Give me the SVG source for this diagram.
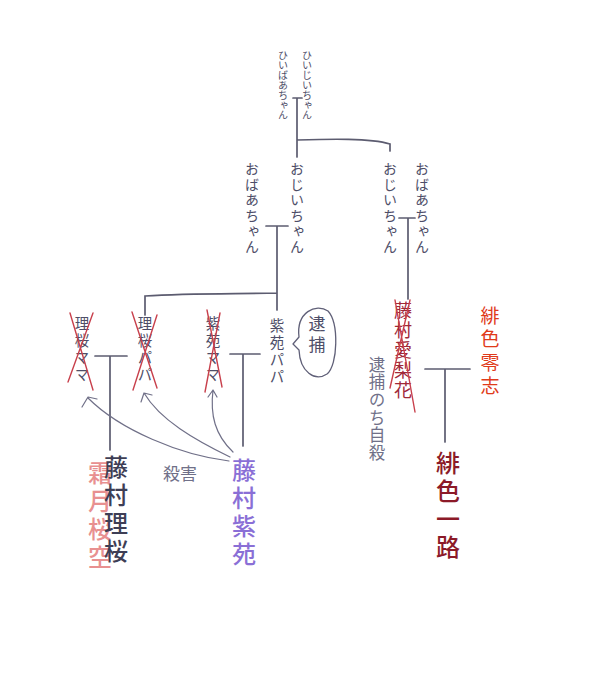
<svg xmlns="http://www.w3.org/2000/svg" width="602" height="680" viewBox="0 0 602 680">
<style>
.v{writing-mode:vertical-rl;font-family:"Noto Sans CJK JP","Noto Sans",sans-serif;}
.ln{fill:none;stroke:#5c5c70;stroke-width:1.7;stroke-linecap:round;}
.x{fill:none;stroke:#c8404c;stroke-width:1.4;stroke-linecap:round;}
.ar{fill:none;stroke:#707088;stroke-width:1.2;stroke-linecap:round;stroke-linejoin:round;}
.g{fill:#4e4e68;}
.s1{font-size:10px;letter-spacing:0px;}
.s2{font-size:14px;letter-spacing:1.5px;}
.s3{font-size:14.5px;letter-spacing:2.5px;}
.big{font-size:24px;letter-spacing:4px;font-weight:500;}
</style>
<rect width="602" height="680" fill="#ffffff"/>
<g id="connectors">
<path class="ln" d="M293 98 H302 M297 98 V157 M297 140 C330 139 370 138 390 144 V151"/>
<path class="ln" d="M266 226 H288 M277 226 V295 M145 315 V296 C190 293 240 294 277 293 V310"/>
<path class="ln" d="M399 218 H415 M408 218 V299"/>
<path class="ln" d="M95 356 H127 M110 356 V450"/>
<path class="ln" d="M230 354 H260 M243 354 V446"/>
<path class="ln" d="M425 369 H470 M445 369 V442"/>
<path class="ar" d="M229 461 C180 455 120 430 88 398 M82 407 L88 397 L97 399"/>
<path class="ar" d="M230 457 C195 440 160 420 144 393 M141 402 L144 393 L152 395"/>
<path class="ar" d="M233 452 C215 435 210 415 213 390 M208 397 L213 390 L217 397"/>
</g>
<g id="gen1">
<text class="v g s1" x="283" y="50">ひいばあちゃん</text>
<text class="v g s1" x="307" y="50">ひいじいちゃん</text>
</g>
<g id="gen2">
<text class="v g s2" x="252" y="162">おばあちゃん</text>
<text class="v g s2" x="297" y="162">おじいちゃん</text>
<text class="v g s2" x="390" y="162">おじいちゃん</text>
<text class="v g s2" x="422" y="162">おばあちゃん</text>
</g>
<g id="rio-mama">
<text class="v g s3" x="82" y="316">理桜ママ</text>
<path class="x" d="M70 313 L93 390 M93 313 L68 382"/>
</g>
<g id="rio-papa">
<text class="v g s3" x="145" y="316">理桜パパ</text>
<path class="x" d="M132 312 L157 388 M157 315 L133 390"/>
</g>
<g id="shion-mama">
<text class="v g s3" x="213" y="316">紫苑ママ</text>
<path class="x" d="M207 310 L222 387 M220 313 L205 392"/>
</g>
<g id="shion-papa">
<text class="v g s3" x="277" y="318">紫苑パパ</text>
</g>
<g id="taiho-bubble">
<path class="ar" style="stroke:#606078;stroke-width:1.3" d="M299 337 C296 312 316 303 328 311 C339 323 338 365 327 374 C315 382 300 372 299 350 L293 344 Z"/>
<text class="v g" style="font-size:17px;letter-spacing:4px" x="317" y="315">逮捕</text>
</g>
<g id="airika">
<text class="v" style="font-size:18px;fill:#a02838;letter-spacing:2px" x="403" y="301">藤村愛梨花</text>
<path class="x" d="M395 300 L415 412 M410 300 L390 388"/>
</g>
<g id="taiho-note">
<text class="v" style="font-size:16.5px;fill:#707088;letter-spacing:1.2px" x="377" y="356">逮捕のち自殺</text>
</g>
<g id="reiji">
<text class="v" style="font-size:19px;fill:#e03a1a;letter-spacing:4.5px" x="490" y="306">緋色零志</text>
</g>
<g id="ichiro">
<text class="v big" style="fill:#8c1a28" x="448" y="451">緋色一路</text>
</g>
<g id="sakura">
<text class="v big" style="fill:#e89090" x="100" y="461">霜月桜空</text>
</g>
<g id="rio">
<text class="v big" style="fill:#3e3e55" x="116" y="455">藤村理桜</text>
</g>
<g id="shion">
<text class="v big" style="fill:#8a6fd6" x="244" y="458">藤村紫苑</text>
</g>
<g id="satsugai">
<text style="font-family:'Noto Sans CJK JP',sans-serif;font-size:17px;fill:#707088" x="163" y="480">殺害</text>
</g>
</svg>
